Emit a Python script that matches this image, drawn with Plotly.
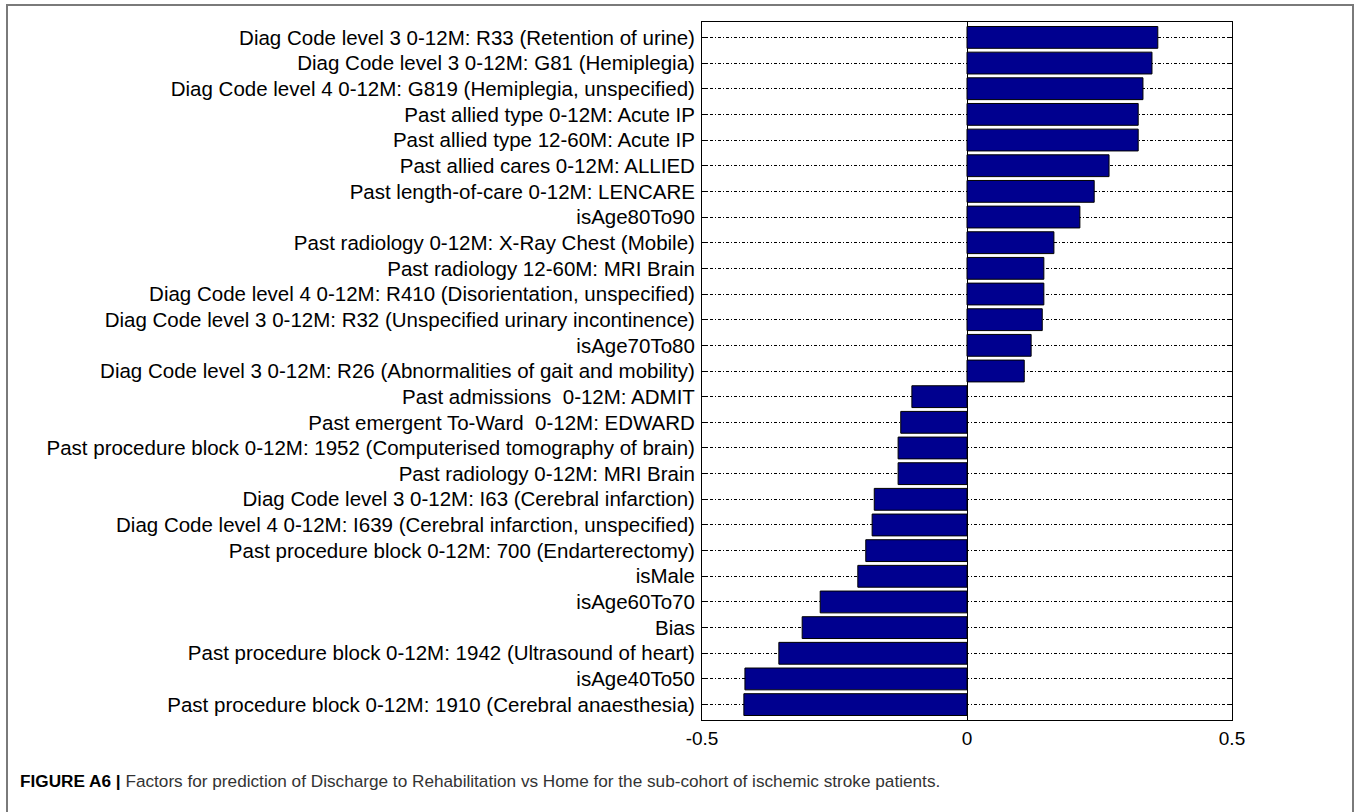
import plotly.graph_objects as go

labels = [
    "Diag Code level 3 0-12M: R33 (Retention of urine)",
    "Diag Code level 3 0-12M: G81 (Hemiplegia)",
    "Diag Code level 4 0-12M: G819 (Hemiplegia, unspecified)",
    "Past allied type 0-12M: Acute IP",
    "Past allied type 12-60M: Acute IP",
    "Past allied cares 0-12M: ALLIED",
    "Past length-of-care 0-12M: LENCARE",
    "isAge80To90",
    "Past radiology 0-12M: X-Ray Chest (Mobile)",
    "Past radiology 12-60M: MRI Brain",
    "Diag Code level 4 0-12M: R410 (Disorientation, unspecified)",
    "Diag Code level 3 0-12M: R32 (Unspecified urinary incontinence)",
    "isAge70To80",
    "Diag Code level 3 0-12M: R26 (Abnormalities of gait and mobility)",
    "Past admissions  0-12M: ADMIT",
    "Past emergent To-Ward  0-12M: EDWARD",
    "Past procedure block 0-12M: 1952 (Computerised tomography of brain)",
    "Past radiology 0-12M: MRI Brain",
    "Diag Code level 3 0-12M: I63 (Cerebral infarction)",
    "Diag Code level 4 0-12M: I639 (Cerebral infarction, unspecified)",
    "Past procedure block 0-12M: 700 (Endarterectomy)",
    "isMale",
    "isAge60To70",
    "Bias",
    "Past procedure block 0-12M: 1942 (Ultrasound of heart)",
    "isAge40To50",
    "Past procedure block 0-12M: 1910 (Cerebral anaesthesia)",
]
values = [
    0.360, 0.349, 0.332, 0.323, 0.323, 0.268, 0.240, 0.213, 0.164, 0.145,
    0.145, 0.142, 0.121, 0.108, -0.104, -0.125, -0.130, -0.130, -0.175, -0.179,
    -0.191, -0.206, -0.277, -0.311, -0.355, -0.419, -0.421,
]
x_ticks = [-0.5, 0, 0.5]
x_tick_text = ["-0.5", "0", "0.5"]
caption_bold = "FIGURE A6 |"
caption_text = " Factors for prediction of Discharge to Rehabilitation vs Home for the sub-cohort of ischemic stroke patients."

W, H = 1357, 812
L, R, T, B = 702, 1232, 22, 720
FONT = "Liberation Sans, Arial, sans-serif"

fig = go.Figure()
fig.add_trace(go.Bar(
    x=values, y=labels, orientation="h",
    marker=dict(color="#00008F", line=dict(color="black", width=1)),
    width=0.85,
))

def px_x(p):
    return (p - L) / (R - L)

def px_y(p):
    return (B - p) / (B - T)

fig.update_layout(
    width=W, height=H,
    margin=dict(l=L, r=W - R, t=T, b=H - B, pad=0),
    plot_bgcolor="white", paper_bgcolor="white",
    showlegend=False,
    font=dict(family=FONT, size=19, color="black"),
    xaxis=dict(
        range=[-0.5, 0.5], tickvals=x_ticks, ticktext=x_tick_text,
        showgrid=False, zeroline=True, zerolinecolor="black", zerolinewidth=1,
        showline=True, linecolor="black", linewidth=1, mirror=True,
        ticks="inside", ticklen=5, tickcolor="black",
        tickfont=dict(size=19), ticklabelstandoff=1,
    ),
    yaxis=dict(
        autorange=False, categoryorder="array", categoryarray=labels,
        showgrid=True, gridcolor="black", gridwidth=1, griddash="3px,2px,1px,2px",
        showline=True, linecolor="black", linewidth=1, mirror="ticks",
        ticks="inside", ticklen=5, tickcolor="black",
        tickfont=dict(size=20.5), ticklabelstandoff=2,
        range=[26.6, -0.6],
    ),
    bargap=0.15,
)

fig.add_shape(
    type="rect", xref="paper", yref="paper",
    x0=px_x(7), x1=px_x(1353), y0=px_y(830), y1=px_y(5),
    line=dict(color="#7a7a7a", width=2), fillcolor="rgba(0,0,0,0)", layer="below",
)

fig.add_annotation(
    xref="paper", yref="paper", x=px_x(18), y=px_y(781),
    xanchor="left", yanchor="middle", showarrow=False, align="left",
    text="<b>" + caption_bold + "</b><span style='color:#333333'>" + caption_text + "</span>",
    font=dict(size=17.2, color="black", family=FONT),
)

fig.write_html(
    "out.html",
    config={"displayModeBar": False},
    post_script="document.body.style.margin='0';document.body.style.overflow='hidden';",
)
